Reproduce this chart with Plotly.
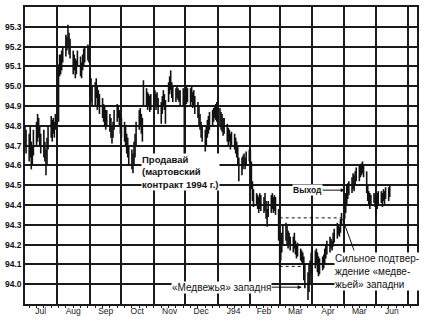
import pandas as pd
import plotly.graph_objects as go

# Daily low / high (one line per week, first trading day 1993-07-01)
LOW = [
    94.70, 94.66,
    94.62, 94.64, 94.58, 94.60, 94.65,
    94.70, 94.72, 94.74, 94.70, 94.66,
    94.64, 94.62, 94.55, 94.60, 94.68,
    94.74, 94.72, 94.76, 94.74, 94.78,
    94.82, 95.05, 95.06, 95.08, 95.12,
    95.15, 95.18, 95.20, 95.16, 95.14,
    95.06, 95.08, 95.04, 95.06, 95.10,
    95.05, 95.04, 95.08, 95.10, 95.12,
    95.13, 95.12, 94.96, 94.92, 94.90,
    94.90, 94.94, 94.88, 94.90, 94.86,
    94.84, 94.82, 94.80, 94.78, 94.80,
    94.77, 94.74, 94.71, 94.74, 94.78,
    94.82, 94.84, 94.80, 94.76, 94.74,
    94.72, 94.70, 94.66, 94.64, 94.60,
    94.58, 94.56, 94.60, 94.64, 94.70,
    94.78, 94.80, 94.76, 94.72, 94.90,
    94.90, 94.88, 94.90, 94.87, 94.88,
    94.89, 94.90, 94.88, 94.90, 94.86,
    94.81, 94.86, 94.90, 94.88, 94.81,
    94.92, 94.96, 94.98, 94.94, 94.92,
    94.92, 94.94, 94.93, 94.92, 94.90,
    94.90, 94.64, 94.89, 94.91, 94.92,
    94.90, 94.92, 94.89, 94.90, 94.86,
    94.84, 94.80, 94.78, 94.74, 94.72,
    94.67, 94.70, 94.74, 94.76, 94.78,
    94.80, 94.82, 94.84, 94.83, 94.82,
    94.80, 94.78, 94.77, 94.75, 94.76,
    94.72, 94.70, 94.72, 94.68, 94.70,
    94.68, 94.66, 94.64, 94.60, 94.52,
    94.55, 94.58, 94.60, 94.58, 94.60,
    94.62, 94.60, 94.48, 94.42, 94.39,
    94.40, 94.38, 94.36, 94.38, 94.37,
    94.36, 94.37, 94.33, 94.29, 94.34,
    94.36, 94.38, 94.36, 94.37, 94.35,
    94.22, 94.09, 94.12, 94.16, 94.20,
    94.22, 94.20, 94.18, 94.20, 94.17,
    94.16, 94.18, 94.15, 94.13, 94.14,
    94.12, 94.11, 94.10, 94.02, 93.98,
    93.92, 93.96, 94.00, 94.05, 94.06,
    94.08, 94.10, 94.06, 94.04, 94.05,
    94.07, 94.08, 94.10, 94.13, 94.15,
    94.16, 94.18, 94.17, 94.19, 94.21,
    94.23, 94.25, 94.24, 94.26, 94.30,
    94.33, 94.36, 94.40, 94.43, 94.45,
    94.46, 94.48, 94.47, 94.50, 94.52,
    94.52, 94.54, 94.55, 94.56, 94.54,
    94.46, 94.42, 94.40, 94.38, 94.40,
    94.41, 94.39, 94.36, 94.38, 94.40,
    94.41, 94.39, 94.42, 94.40, 94.43,
    94.42, 94.44,
]
HIGH = [
    94.80, 94.78,
    94.76, 94.80, 94.72, 94.70, 94.78,
    94.82, 94.86, 94.84, 94.80, 94.76,
    94.78, 94.72, 94.68, 94.74, 94.80,
    94.85, 94.83, 94.84, 94.82, 94.86,
    95.11, 95.16, 95.16, 95.18, 95.20,
    95.26, 95.25, 95.31, 95.27, 95.24,
    95.18, 95.16, 95.14, 95.13, 95.18,
    95.15, 95.12, 95.16, 95.19, 95.20,
    95.21, 95.20, 95.06, 95.04, 95.00,
    95.02, 95.04, 95.00, 94.98, 94.96,
    94.94, 94.91, 94.90, 94.88, 94.88,
    94.86, 94.84, 94.80, 94.82, 94.88,
    94.91, 94.90, 94.88, 94.86, 94.84,
    94.82, 94.80, 94.76, 94.74, 94.70,
    94.68, 94.66, 94.72, 94.76, 94.82,
    94.88, 94.89, 94.86, 94.84, 95.03,
    94.99, 94.97, 94.96, 94.95, 94.96,
    94.97, 94.98, 94.96, 94.97, 94.94,
    94.92, 94.95, 94.98, 94.96, 94.93,
    95.02, 95.05, 95.08, 95.02, 95.00,
    94.99, 95.00, 94.99, 94.98, 94.98,
    94.99, 94.95, 94.98, 95.00, 94.99,
    94.99, 95.00, 94.97, 94.98, 94.95,
    94.92, 94.90, 94.86, 94.82, 94.80,
    94.78, 94.80, 94.83, 94.85, 94.87,
    94.88, 94.89, 94.90, 94.91, 94.92,
    94.89, 94.87, 94.86, 94.84, 94.84,
    94.81, 94.79, 94.78, 94.76, 94.77,
    94.76, 94.74, 94.72, 94.70, 94.64,
    94.64, 94.65, 94.66, 94.64, 94.67,
    94.68, 94.68, 94.62, 94.52, 94.48,
    94.46, 94.45, 94.44, 94.46, 94.45,
    94.44, 94.46, 94.42, 94.38, 94.42,
    94.45, 94.46, 94.44, 94.45, 94.44,
    94.38, 94.25, 94.22, 94.26, 94.30,
    94.31, 94.30, 94.27, 94.26, 94.24,
    94.24, 94.26, 94.22, 94.20, 94.21,
    94.18, 94.17, 94.16, 94.14, 94.10,
    94.06, 94.10, 94.12, 94.16, 94.18,
    94.17, 94.18, 94.16, 94.14, 94.13,
    94.14, 94.15, 94.18, 94.20, 94.22,
    94.24, 94.23, 94.22, 94.26, 94.28,
    94.31, 94.30, 94.29, 94.33, 94.36,
    94.42, 94.46, 94.50, 94.51, 94.52,
    94.54, 94.56, 94.55, 94.57, 94.59,
    94.60, 94.60, 94.61, 94.62, 94.60,
    94.57, 94.50, 94.47, 94.46, 94.45,
    94.46, 94.45, 94.44, 94.46, 94.47,
    94.47, 94.46, 94.48, 94.47, 94.49,
    94.49, 94.50,
]
assert len(LOW) == len(HIGH)
DATES = pd.bdate_range("1993-07-01", periods=len(HIGH))

# Axis labels
Y_TICKS = [94.0, 94.1, 94.2, 94.3, 94.4, 94.5, 94.6, 94.7, 94.8, 94.9,
           95.0, 95.1, 95.2, 95.3]
MONTH_STARTS = ["1993-08-01", "1993-09-01", "1993-10-01", "1993-11-01",
                "1993-12-01", "1994-01-01", "1994-02-01", "1994-03-01",
                "1994-04-01", "1994-05-01", "1994-06-01", "1994-07-01"]
MONTH_MIDS = ["1993-07-16", "1993-08-16", "1993-09-16", "1993-10-16",
              "1993-11-16", "1993-12-16", "1994-01-16", "1994-02-14",
              "1994-03-16", "1994-04-16", "1994-05-16", "1994-06-16"]
MONTH_LABELS = ["Jul", "Aug", "Sep", "Oct", "Nov", "Dec", "J94", "Feb",
                "Mar", "Apr", "Mar", "Jun"]

# Horizontal dotted "trap" levels
TRAP_HI = {"x": ["1994-03-01", "1994-04-29"], "y": [94.335, 94.335]}
TRAP_LO = {"x": ["1994-03-01", "1994-03-24"], "y": [94.09, 94.09]}

xs, ys = [], []
for d, lo, hi in zip(DATES, LOW, HIGH):
    xs += [d, d, None]
    ys += [lo, hi, None]

fig = go.Figure()
fig.add_trace(go.Scatter(x=xs, y=ys, mode="lines",
                         line=dict(color="#111", width=1.6),
                         hoverinfo="skip", showlegend=False))
for lvl in (TRAP_HI, TRAP_LO):
    fig.add_trace(go.Scatter(x=lvl["x"], y=lvl["y"], mode="lines",
                             line=dict(color="#111", width=1, dash="dot"),
                             showlegend=False))
# helper trace for the label axis
fig.add_trace(go.Scatter(x=MONTH_MIDS, y=[None] * len(MONTH_MIDS),
                         xaxis="x2", mode="markers", showlegend=False))

GRID = "#1a1a1a"
fig.update_layout(
    width=424, height=321, autosize=False,
    margin=dict(l=22, r=7, t=5, b=16),
    paper_bgcolor="white", plot_bgcolor="white",
    font=dict(family="Liberation Sans, Arial, sans-serif", color="#111"),
    xaxis=dict(type="date", range=["1993-07-01", "1994-07-10"],
               tickmode="array", tickvals=MONTH_STARTS,
               ticktext=[""] * len(MONTH_STARTS),
               showgrid=True, gridcolor=GRID, gridwidth=1.6,
               showline=True, linecolor=GRID, linewidth=1.6, mirror=True,
               ticks="", zeroline=False),
    xaxis2=dict(type="date", overlaying="x", matches="x", anchor="y",
                side="bottom", tickmode="array", tickvals=MONTH_MIDS,
                ticktext=MONTH_LABELS, showgrid=False, showline=False,
                ticks="", tickfont=dict(size=8.5, color="#222"),
                minor=dict(dtick=7 * 86400000, tick0="1993-07-05",
                           ticks="outside", ticklen=3, tickcolor=GRID,
                           showgrid=False)),
    yaxis=dict(range=[93.9, 95.4], tickmode="array", tickvals=Y_TICKS,
               ticktext=[f"{v:.1f}" for v in Y_TICKS],
               showgrid=True, gridcolor=GRID, gridwidth=1.6,
               showline=True, linecolor=GRID, linewidth=1.6, mirror=True,
               ticks="", zeroline=False,
               tickfont=dict(size=8.5, color="#111", weight="bold")),
)

fig.add_annotation(x="1993-10-20", y=94.565, xanchor="left", align="left",
                   text="Продавай<br>(мартовский<br>контракт 1994 г.)",
                   showarrow=False, bgcolor="white", borderpad=0,
                   font=dict(size=9.5, weight="bold", color="#111"))
fig.add_annotation(x="1994-05-02", y=94.475, ax=-37, ay=0,
                   text="Выход", showarrow=True, arrowhead=2,
                   arrowsize=0.8, arrowwidth=1, arrowcolor="#111",
                   bgcolor="white", borderpad=0,
                   font=dict(size=8.5, weight="bold", color="#111"))
fig.add_annotation(x="1994-03-22", y=93.985, ax=-80, ay=0,
                   text="«Медвежья» западня", showarrow=True, arrowhead=2,
                   arrowsize=0.8, arrowwidth=1, arrowcolor="#111",
                   bgcolor="white", borderpad=0,
                   font=dict(size=10, color="#111"))
fig.add_annotation(x="1994-04-30", y=94.33, ax=12, ay=33, text="",
                   showarrow=True, arrowhead=0, arrowwidth=1,
                   arrowcolor="#111")
fig.add_annotation(x="1994-04-22", y=94.065, xanchor="left", align="left",
                   text="Сильное подтвер-<br>ждение «медве-<br>жьей» западни",
                   showarrow=False, bgcolor="white", borderpad=0,
                   font=dict(size=10, color="#111"))

fig.write_html("out.html")
